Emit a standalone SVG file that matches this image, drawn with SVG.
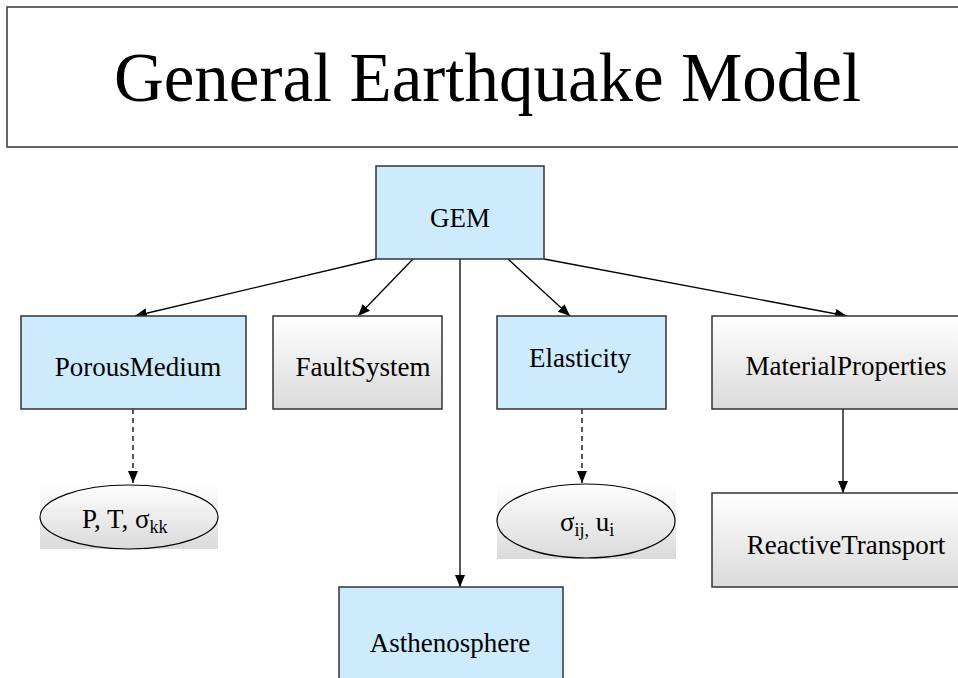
<svg xmlns="http://www.w3.org/2000/svg" width="958" height="678" viewBox="0 0 958 678">
<defs>
<linearGradient id="gray" x1="0" y1="0" x2="0" y2="1">
<stop offset="0" stop-color="#ffffff"/>
<stop offset="1" stop-color="#dadada"/>
</linearGradient>
<marker id="ah" viewBox="0 0 12 10" refX="12" refY="5" markerWidth="12" markerHeight="10" markerUnits="userSpaceOnUse" orient="auto">
<path d="M0,0 L12,5 L0,10 Z" fill="#000"/>
</marker>
<style>
.t{font-family:"Liberation Serif","Times New Roman",serif;fill:#000;}
.lbl{font-size:27px;text-anchor:middle;}
.blue{fill:#cdebfd;stroke:#333;stroke-width:1.5;}
.grey{fill:url(#gray);stroke:#333;stroke-width:1.5;}
.conn{stroke:#000;stroke-width:1.3;fill:none;marker-end:url(#ah);}
.dash{stroke-dasharray:5,4;}
.sub{font-size:18px;}
</style>
</defs>
<rect width="958" height="678" fill="#fff"/>
<g id="title">
<rect x="7" y="7" width="970" height="140" fill="#fff" stroke="#333" stroke-width="1.5"/>
<text class="t" x="487.5" y="101" font-size="69" text-anchor="middle">General Earthquake Model</text>
</g>
<g id="connectors">
<line class="conn" x1="376" y1="259" x2="135" y2="316"/>
<line class="conn" x1="413" y1="259" x2="358" y2="316"/>
<line class="conn" x1="460" y1="259" x2="460" y2="587"/>
<line class="conn" x1="508" y1="259" x2="570" y2="316"/>
<line class="conn" x1="544" y1="259" x2="847" y2="316"/>
<line class="conn dash" x1="133" y1="409" x2="133" y2="483"/>
<line class="conn dash" x1="582" y1="409" x2="582" y2="483"/>
<line class="conn" x1="843" y1="409" x2="843" y2="493"/>
</g>
<g id="gem">
<rect class="blue" x="376" y="166" width="168" height="93"/>
<text class="t lbl" x="460" y="227">GEM</text>
</g>
<g id="porousmedium">
<rect class="blue" x="21" y="316" width="225" height="93"/>
<text class="t lbl" x="138" y="376">PorousMedium</text>
</g>
<g id="faultsystem">
<rect class="grey" x="273" y="316" width="169" height="93"/>
<text class="t lbl" x="363" y="376">FaultSystem</text>
</g>
<g id="elasticity">
<rect class="blue" x="497" y="316" width="169" height="93"/>
<text class="t lbl" x="580" y="367">Elasticity</text>
</g>
<g id="materialproperties">
<rect class="grey" x="712" y="316" width="260" height="93"/>
<text class="t lbl" x="846" y="375">MaterialProperties</text>
</g>
<g id="reactivetransport">
<rect class="grey" x="712" y="493" width="260" height="94"/>
<text class="t lbl" x="846" y="554">ReactiveTransport</text>
</g>
<g id="asthenosphere">
<rect class="blue" x="339" y="587" width="224" height="100"/>
<text class="t lbl" x="450" y="652">Asthenosphere</text>
</g>
<g id="ptsigma">
<rect x="40" y="483" width="178" height="66" fill="url(#gray)"/>
<ellipse cx="129" cy="517" rx="89" ry="32" fill="none" stroke="#000" stroke-width="1.2"/>
<text class="t" x="82" y="528" font-size="27">P, T, σ<tspan class="sub" dy="5">kk</tspan></text>
</g>
<g id="sigmaij">
<rect x="497" y="483" width="179" height="76" fill="url(#gray)"/>
<ellipse cx="586" cy="521" rx="89" ry="37" fill="none" stroke="#000" stroke-width="1.2"/>
<text class="t" x="560" y="531" font-size="27">σ<tspan class="sub" dy="5">ij,</tspan><tspan dy="-5"> u</tspan><tspan class="sub" dy="5">i</tspan></text>
</g>
</svg>
